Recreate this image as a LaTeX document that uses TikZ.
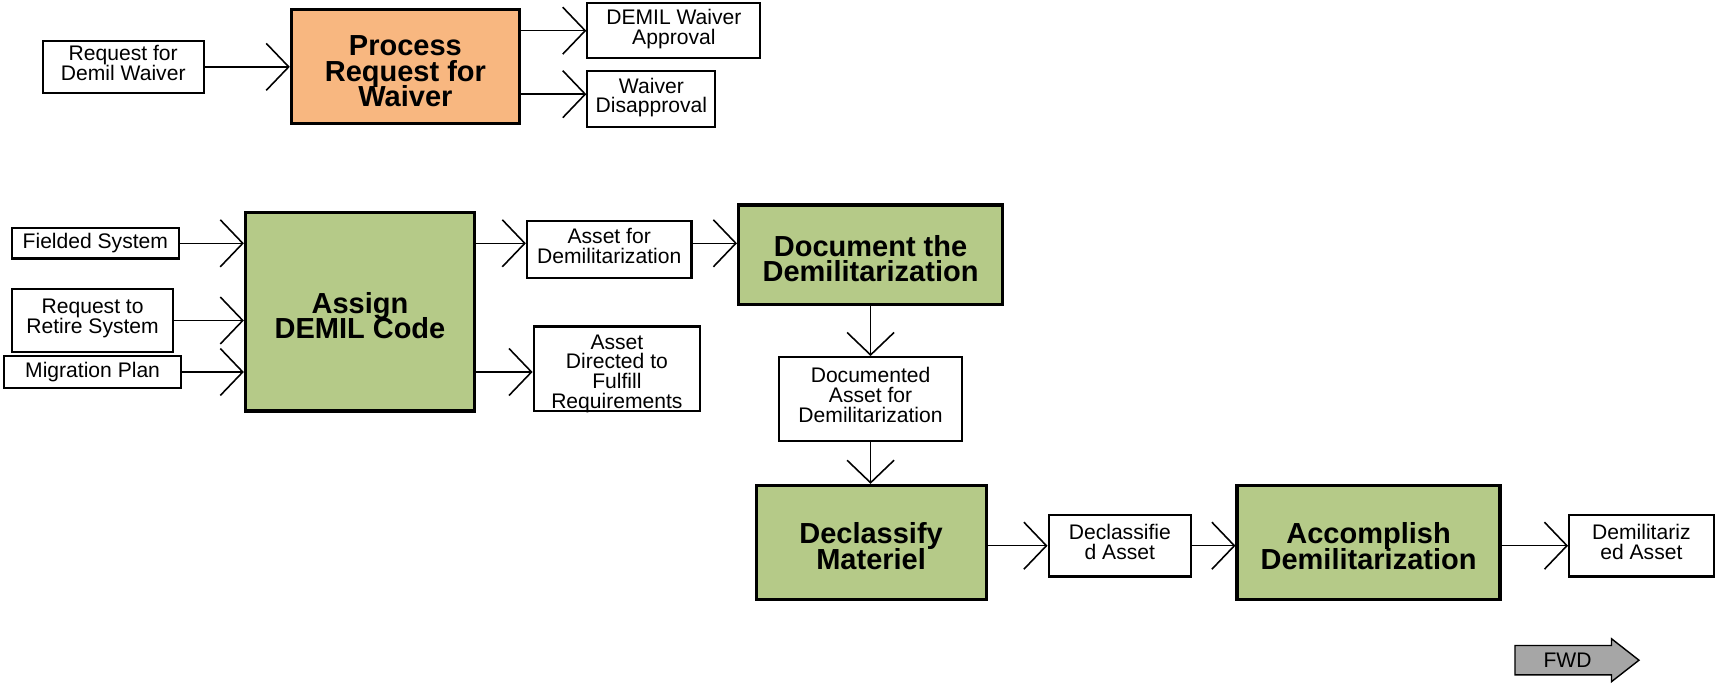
\documentclass[tikz,border=0pt]{standalone}
\usepackage{fontspec}
\setmainfont{Liberation Sans}
\usetikzlibrary{arrows.meta,shapes.arrows}
\definecolor{actgreen}{RGB}{181,202,136}
\definecolor{actorange}{RGB}{248,183,128}
\definecolor{fwdgray}{RGB}{166,166,166}
\newcommand{\tightlines}{\setlength{\lineskiplimit}{-20pt}}
\begin{document}
\begin{tikzpicture}[
    activity/.style={rectangle, draw, line width=1.8pt, align=center, inner sep=2pt, font=\fontsize{16.5}{14.6}\selectfont\bfseries\tightlines, execute at begin node={\rule{0pt}{#1}}},
    activity/.default=31pt,
    artifact/.style={rectangle, draw, line width=1.2pt, fill=white, align=center, inner sep=1pt, font=\fontsize{12}{11.2}\selectfont\tightlines},
    lifted/.style={execute at end node={\rule[-4.5pt]{0pt}{4.5pt}}},
    flow/.style={line width=0.9pt, -{Straight Barb[length=4.5mm, width=9.4mm]}}
]
\useasboundingbox (0,0) rectangle (34.36,13.675);
% Waiver request
\node[artifact, lifted, minimum width=3.22cm, minimum height=1.05cm] (reqwaiver) at (2.465,12.338) {Request for\\Demil Waiver};
\node[activity=45.6pt, fill=actorange, minimum width=4.56cm, minimum height=2.28cm] (procwaiver) at (8.108,12.338) {Process\\Request for\\Waiver};
\node[artifact, lifted, minimum width=3.46cm, minimum height=1.10cm] (approval) at (13.477,13.061) {DEMIL Waiver\\Approval};
\node[artifact, lifted, minimum width=2.56cm, minimum height=1.12cm] (disapproval) at (13.028,11.691) {Waiver\\Disapproval};
% Code assignment
\node[artifact, minimum width=3.33cm, minimum height=0.61cm] (fielded) at (1.907,8.809) {Fielded System};
\node[artifact, lifted, minimum width=3.22cm, minimum height=1.25cm] (retire) at (1.852,7.265) {Request to\\Retire System};
\node[artifact, minimum width=3.53cm, minimum height=0.64cm] (migration) at (1.852,6.235) {Migration Plan};
\node[activity, fill=actgreen, minimum width=4.58cm, minimum height=3.97cm] (assign) at (7.199,7.440) {Assign\\DEMIL Code};
\node[artifact, lifted, minimum width=3.29cm, minimum height=1.14cm] (assetdemil) at (12.184,8.678) {Asset for\\Demilitarization};
\node[artifact, minimum width=3.33cm, minimum height=1.69cm] (directed) at (12.338,6.300) {};
\node[align=center, anchor=north, inner sep=0pt, font=\fontsize{12}{11.2}\selectfont\tightlines] (directedtext) at ([yshift=-0.175cm]directed.north) {Asset\\Directed to\\Fulfill\\Requirements};
% Demilitarization chain
\node[activity, fill=actgreen, minimum width=5.28cm, minimum height=1.99cm] (docdemil) at (17.411,8.579) {Document the\\Demilitarization};
\node[artifact, lifted, minimum width=3.66cm, minimum height=1.67cm] (documented) at (17.411,5.698) {Documented\\Asset for\\Demilitarization};
\node[activity, fill=actgreen, minimum width=4.60cm, minimum height=2.28cm] (declassify) at (17.422,2.827) {Declassify\\Materiel};
\node[artifact, lifted, minimum width=2.85cm, minimum height=1.23cm] (declassasset) at (22.396,2.761) {Declassifie\\d Asset};
\node[activity, fill=actgreen, minimum width=5.26cm, minimum height=2.28cm] (accomplish) at (27.371,2.827) {Accomplish\\Demilitarization};
\node[artifact, lifted, minimum width=2.89cm, minimum height=1.23cm] (demilasset) at (32.827,2.761) {Demilitariz\\ed Asset};
% Direction marker
\node[single arrow, draw, line width=0.8pt, fill=fwdgray, anchor=west, minimum height=2.48cm, minimum width=0.86cm, single arrow head extend=0.09cm, single arrow tip angle=76, inner sep=1pt, font=\fontsize{12}{12}\selectfont] (fwd) at (30.285,0.471) {FWD};

\coordinate (disapprovalout) at ([yshift=0.1cm]procwaiver.east |- disapproval);
\draw[flow] (reqwaiver.east) -- (procwaiver.west);
\draw[flow] (procwaiver.east |- approval) -- (approval.west);
\draw[flow] (disapprovalout) -- (disapprovalout -| disapproval.west);
\draw[flow] (fielded.east) -- (assign.west |- fielded);
\draw[flow] (retire.east) -- (assign.west |- retire);
\draw[flow] (migration.east) -- (assign.west |- migration);
\draw[flow] (assign.east |- fielded) -- (assetdemil.west |- fielded);
\draw[flow] (assetdemil.east |- fielded) -- (docdemil.west |- fielded);
\draw[flow] (assign.east |- migration) -- (directed.west |- migration);
\draw[flow] (docdemil.south) -- (documented.north);
\draw[flow] (documented.south) -- (documented.south |- declassify.north);
\draw[flow] (declassify.east |- declassasset) -- (declassasset.west);
\draw[flow] (declassasset.east) -- (accomplish.west |- declassasset);
\draw[flow] (accomplish.east |- demilasset) -- (demilasset.west);
\end{tikzpicture}
\end{document}
